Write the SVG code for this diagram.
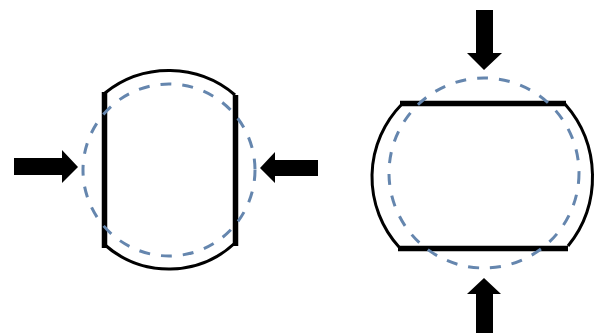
<svg xmlns="http://www.w3.org/2000/svg" width="597" height="333" viewBox="0 0 597 333">
  <style>
    .arc { fill: none; stroke: #000; stroke-width: 3; }
    .bar { fill: none; stroke: #000; stroke-width: 5.5; }
    .dash { fill: none; stroke: #6586ae; stroke-width: 3; stroke-dasharray: 11 11; }
    .arrow { fill: #000; }
  </style>
  <rect width="597" height="333" fill="#fff"/>
  <g id="left-shape">
    <path class="arc" d="M105,93 A102,102 0 0 1 235,95"/>
    <path class="arc" d="M105,245 A97,97 0 0 0 235,243"/>
    <line class="bar" x1="104.5" y1="92" x2="104.5" y2="248"/>
    <line class="bar" x1="235.5" y1="95" x2="235.5" y2="246"/>
    <circle class="dash" cx="169" cy="170" r="86"/>
  </g>
  <g id="right-shape">
    <path class="arc" d="M402,104 A104,104 0 0 0 399,247"/>
    <path class="arc" d="M565,104 A110,110 0 0 1 568,246"/>
    <line class="bar" x1="400" y1="103.5" x2="566" y2="103.5"/>
    <line class="bar" x1="398" y1="248.5" x2="568" y2="248.5"/>
    <circle class="dash" cx="484" cy="173" r="95"/>
  </g>
  <g id="arrows">
    <polygon id="arrow-left" class="arrow" points="14,158 62,158 62,150 78,167 62,183 62,175 14,175"/>
    <polygon id="arrow-right" class="arrow" points="260,168 275,152 275,160 318,160 318,176 275,176 275,183"/>
    <polygon id="arrow-top" class="arrow" points="476,10 493,10 493,53 502,53 484,70 467,53 476,53"/>
    <polygon id="arrow-bottom" class="arrow" points="484,278 501,294 493,294 493,333 476,333 476,294 467,294"/>
  </g>
</svg>
